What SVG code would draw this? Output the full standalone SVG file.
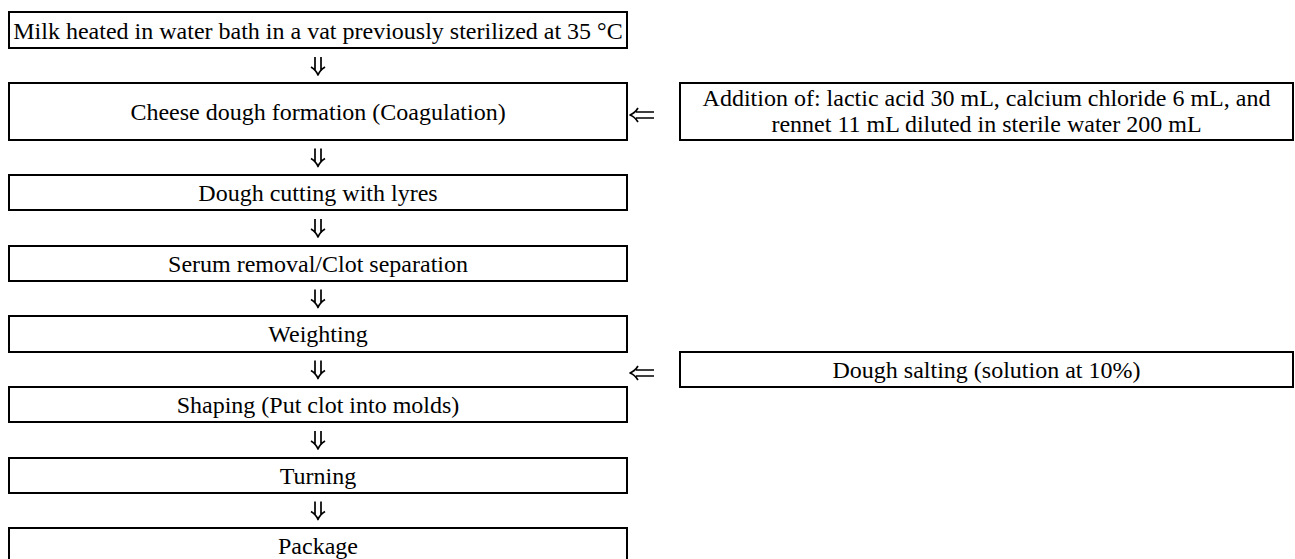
<svg xmlns="http://www.w3.org/2000/svg" width="1295" height="559" viewBox="0 0 1295 559">
<style>
.box{fill:#fff;stroke:#000;stroke-width:2}
.t{font-family:"Liberation Serif","Times New Roman",serif;font-size:24px;fill:#000;text-anchor:middle}
.arr{fill:none;stroke:#000;stroke-width:1.7;stroke-linecap:butt;stroke-linejoin:round}
</style>
<defs>
<g id="down">
<path class="arr" d="M-3,-9 V5 M3,-9 V5 M-7,1 Q-2,4 0,9 Q2,4 7,1"/>
</g>
<g id="left">
<path class="arr" d="M-6,-3 H12 M-6,3 H12 M-4,-7 Q-7,-2 -12,0 Q-7,2 -4,7"/>
</g>
</defs>
<rect width="1295" height="559" fill="#fff"/>
<g id="n1"><rect class="box" x="9" y="12" width="618" height="36"/><text class="t" x="318" y="38.5">Milk heated in water bath in a vat previously sterilized at 35 °C</text></g>
<g id="n2"><rect class="box" x="9" y="83" width="618" height="57"/><text class="t" x="318" y="119.5">Cheese dough formation (Coagulation)</text></g>
<g id="n2a"><rect class="box" x="680" y="83" width="613" height="57"/><text class="t" x="986.5" y="105.5">Addition of: lactic acid 30 mL, calcium chloride 6 mL, and</text><text class="t" x="986.5" y="131.5">rennet 11 mL diluted in sterile water 200 mL</text></g>
<g id="n3"><rect class="box" x="9" y="175" width="618" height="35"/><text class="t" x="318" y="200.5">Dough cutting with lyres</text></g>
<g id="n4"><rect class="box" x="9" y="246" width="618" height="35"/><text class="t" x="318" y="271.5">Serum removal/Clot separation</text></g>
<g id="n5"><rect class="box" x="9" y="316" width="618" height="36"/><text class="t" x="318" y="342">Weighting</text></g>
<g id="n5a"><rect class="box" x="680" y="352" width="613" height="35"/><text class="t" x="986.5" y="377.5">Dough salting (solution at 10%)</text></g>
<g id="n6"><rect class="box" x="9" y="387" width="618" height="35"/><text class="t" x="318" y="412.5">Shaping (Put clot into molds)</text></g>
<g id="n7"><rect class="box" x="9" y="458" width="618" height="35"/><text class="t" x="318" y="483.5">Turning</text></g>
<g id="n8"><rect class="box" x="9" y="528" width="618" height="36"/><text class="t" x="318" y="554">Package</text></g>
<g id="connectors">
<use href="#down" x="318" y="66"/>
<use href="#down" x="318" y="157.5"/>
<use href="#down" x="318" y="228"/>
<use href="#down" x="318" y="298.5"/>
<use href="#down" x="318" y="369.5"/>
<use href="#down" x="318" y="440"/>
<use href="#down" x="318" y="510.5"/>
<use href="#left" x="642" y="115"/>
<use href="#left" x="642" y="373"/>
</g>
</svg>
